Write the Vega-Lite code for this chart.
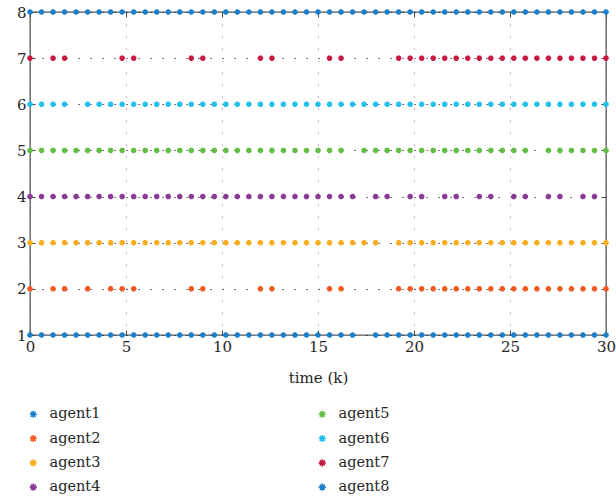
{
  "$schema": "https://vega.github.io/schema/vega-lite/v6.json",
  "width": 576,
  "height": 323,
  "autosize": {"type": "none"},
  "padding": {"left": 30, "top": 12, "right": 10, "bottom": 167},
  "background": "white",
  "config": {
    "view": {"stroke": "#555555", "strokeWidth": 1.3},
    "font": "DejaVu Serif",
    "axis": {"labelFont": "DejaVu Serif", "titleFont": "DejaVu Serif", "labelFontSize": 15, "titleFontSize": 15, "labelColor": "#262626", "titleColor": "#262626", "titleFontWeight": "normal", "domain": false, "tickColor": "#444444", "tickWidth": 1, "labelFlush": false},
    "legend": {"labelFont": "DejaVu Serif", "labelFontSize": 14.5, "labelColor": "#262626"},
    "text": {"font": "DejaVu Serif"}
  },
  "data": {"values": [
{"agent":"agent1","level":1,"time":0},{"agent":"agent1","level":1,"time":0.6},{"agent":"agent1","level":1,"time":1.2},{"agent":"agent1","level":1,"time":1.8},{"agent":"agent1","level":1,"time":2.4},{"agent":"agent1","level":1,"time":3},{"agent":"agent1","level":1,"time":3.6},{"agent":"agent1","level":1,"time":4.2},{"agent":"agent1","level":1,"time":4.8},{"agent":"agent1","level":1,"time":5.4},{"agent":"agent1","level":1,"time":6},{"agent":"agent1","level":1,"time":6.6},{"agent":"agent1","level":1,"time":7.2},{"agent":"agent1","level":1,"time":7.8},{"agent":"agent1","level":1,"time":8.4},{"agent":"agent1","level":1,"time":9},{"agent":"agent1","level":1,"time":9.6},{"agent":"agent1","level":1,"time":10.2},{"agent":"agent1","level":1,"time":10.8},{"agent":"agent1","level":1,"time":11.4},{"agent":"agent1","level":1,"time":12},{"agent":"agent1","level":1,"time":12.6},{"agent":"agent1","level":1,"time":13.2},{"agent":"agent1","level":1,"time":13.8},{"agent":"agent1","level":1,"time":14.4},{"agent":"agent1","level":1,"time":15},{"agent":"agent1","level":1,"time":15.6},{"agent":"agent1","level":1,"time":16.2},{"agent":"agent1","level":1,"time":16.8},{"agent":"agent1","level":1,"time":18},{"agent":"agent1","level":1,"time":18.6},{"agent":"agent1","level":1,"time":19.2},{"agent":"agent1","level":1,"time":19.8},{"agent":"agent1","level":1,"time":20.4},{"agent":"agent1","level":1,"time":21},{"agent":"agent1","level":1,"time":21.6},{"agent":"agent1","level":1,"time":22.2},{"agent":"agent1","level":1,"time":22.8},{"agent":"agent1","level":1,"time":23.4},{"agent":"agent1","level":1,"time":24},{"agent":"agent1","level":1,"time":24.6},{"agent":"agent1","level":1,"time":25.2},{"agent":"agent1","level":1,"time":25.8},{"agent":"agent1","level":1,"time":26.4},{"agent":"agent1","level":1,"time":27},{"agent":"agent1","level":1,"time":27.6},{"agent":"agent1","level":1,"time":28.2},{"agent":"agent1","level":1,"time":28.8},{"agent":"agent1","level":1,"time":29.4},{"agent":"agent1","level":1,"time":30},
{"agent":"agent2","level":2,"time":0},{"agent":"agent2","level":2,"time":1.2},{"agent":"agent2","level":2,"time":1.8},{"agent":"agent2","level":2,"time":3},{"agent":"agent2","level":2,"time":4.2},{"agent":"agent2","level":2,"time":4.8},{"agent":"agent2","level":2,"time":5.4},{"agent":"agent2","level":2,"time":8.4},{"agent":"agent2","level":2,"time":9},{"agent":"agent2","level":2,"time":12},{"agent":"agent2","level":2,"time":12.6},{"agent":"agent2","level":2,"time":15.6},{"agent":"agent2","level":2,"time":16.2},{"agent":"agent2","level":2,"time":19.2},{"agent":"agent2","level":2,"time":19.8},{"agent":"agent2","level":2,"time":20.4},{"agent":"agent2","level":2,"time":21},{"agent":"agent2","level":2,"time":21.6},{"agent":"agent2","level":2,"time":22.2},{"agent":"agent2","level":2,"time":22.8},{"agent":"agent2","level":2,"time":23.4},{"agent":"agent2","level":2,"time":24},{"agent":"agent2","level":2,"time":24.6},{"agent":"agent2","level":2,"time":25.2},{"agent":"agent2","level":2,"time":25.8},{"agent":"agent2","level":2,"time":26.4},{"agent":"agent2","level":2,"time":27},{"agent":"agent2","level":2,"time":27.6},{"agent":"agent2","level":2,"time":28.2},{"agent":"agent2","level":2,"time":28.8},{"agent":"agent2","level":2,"time":29.4},{"agent":"agent2","level":2,"time":30},
{"agent":"agent3","level":3,"time":0},{"agent":"agent3","level":3,"time":0.6},{"agent":"agent3","level":3,"time":1.2},{"agent":"agent3","level":3,"time":1.8},{"agent":"agent3","level":3,"time":2.4},{"agent":"agent3","level":3,"time":3},{"agent":"agent3","level":3,"time":3.6},{"agent":"agent3","level":3,"time":4.2},{"agent":"agent3","level":3,"time":4.8},{"agent":"agent3","level":3,"time":5.4},{"agent":"agent3","level":3,"time":6},{"agent":"agent3","level":3,"time":6.6},{"agent":"agent3","level":3,"time":7.2},{"agent":"agent3","level":3,"time":7.8},{"agent":"agent3","level":3,"time":8.4},{"agent":"agent3","level":3,"time":9},{"agent":"agent3","level":3,"time":9.6},{"agent":"agent3","level":3,"time":10.2},{"agent":"agent3","level":3,"time":10.8},{"agent":"agent3","level":3,"time":11.4},{"agent":"agent3","level":3,"time":12},{"agent":"agent3","level":3,"time":12.6},{"agent":"agent3","level":3,"time":13.2},{"agent":"agent3","level":3,"time":13.8},{"agent":"agent3","level":3,"time":14.4},{"agent":"agent3","level":3,"time":15},{"agent":"agent3","level":3,"time":15.6},{"agent":"agent3","level":3,"time":16.2},{"agent":"agent3","level":3,"time":16.8},{"agent":"agent3","level":3,"time":17.4},{"agent":"agent3","level":3,"time":18},{"agent":"agent3","level":3,"time":19.2},{"agent":"agent3","level":3,"time":19.8},{"agent":"agent3","level":3,"time":20.4},{"agent":"agent3","level":3,"time":21},{"agent":"agent3","level":3,"time":21.6},{"agent":"agent3","level":3,"time":22.2},{"agent":"agent3","level":3,"time":22.8},{"agent":"agent3","level":3,"time":23.4},{"agent":"agent3","level":3,"time":24},{"agent":"agent3","level":3,"time":24.6},{"agent":"agent3","level":3,"time":25.2},{"agent":"agent3","level":3,"time":25.8},{"agent":"agent3","level":3,"time":26.4},{"agent":"agent3","level":3,"time":27},{"agent":"agent3","level":3,"time":27.6},{"agent":"agent3","level":3,"time":28.2},{"agent":"agent3","level":3,"time":28.8},{"agent":"agent3","level":3,"time":29.4},{"agent":"agent3","level":3,"time":30},
{"agent":"agent4","level":4,"time":0},{"agent":"agent4","level":4,"time":0.6},{"agent":"agent4","level":4,"time":1.2},{"agent":"agent4","level":4,"time":1.8},{"agent":"agent4","level":4,"time":2.4},{"agent":"agent4","level":4,"time":3},{"agent":"agent4","level":4,"time":3.6},{"agent":"agent4","level":4,"time":4.2},{"agent":"agent4","level":4,"time":4.8},{"agent":"agent4","level":4,"time":5.4},{"agent":"agent4","level":4,"time":6},{"agent":"agent4","level":4,"time":6.6},{"agent":"agent4","level":4,"time":7.2},{"agent":"agent4","level":4,"time":7.8},{"agent":"agent4","level":4,"time":8.4},{"agent":"agent4","level":4,"time":9},{"agent":"agent4","level":4,"time":9.6},{"agent":"agent4","level":4,"time":10.2},{"agent":"agent4","level":4,"time":10.8},{"agent":"agent4","level":4,"time":11.4},{"agent":"agent4","level":4,"time":12},{"agent":"agent4","level":4,"time":12.6},{"agent":"agent4","level":4,"time":13.2},{"agent":"agent4","level":4,"time":13.8},{"agent":"agent4","level":4,"time":14.4},{"agent":"agent4","level":4,"time":15},{"agent":"agent4","level":4,"time":15.6},{"agent":"agent4","level":4,"time":16.2},{"agent":"agent4","level":4,"time":16.8},{"agent":"agent4","level":4,"time":18},{"agent":"agent4","level":4,"time":18.6},{"agent":"agent4","level":4,"time":19.8},{"agent":"agent4","level":4,"time":20.4},{"agent":"agent4","level":4,"time":21.6},{"agent":"agent4","level":4,"time":22.2},{"agent":"agent4","level":4,"time":23.4},{"agent":"agent4","level":4,"time":24},{"agent":"agent4","level":4,"time":25.2},{"agent":"agent4","level":4,"time":25.8},{"agent":"agent4","level":4,"time":27},{"agent":"agent4","level":4,"time":27.6},{"agent":"agent4","level":4,"time":28.8},{"agent":"agent4","level":4,"time":29.4},
{"agent":"agent5","level":5,"time":0},{"agent":"agent5","level":5,"time":0.6},{"agent":"agent5","level":5,"time":1.2},{"agent":"agent5","level":5,"time":1.8},{"agent":"agent5","level":5,"time":2.4},{"agent":"agent5","level":5,"time":3},{"agent":"agent5","level":5,"time":3.6},{"agent":"agent5","level":5,"time":4.2},{"agent":"agent5","level":5,"time":4.8},{"agent":"agent5","level":5,"time":5.4},{"agent":"agent5","level":5,"time":6},{"agent":"agent5","level":5,"time":6.6},{"agent":"agent5","level":5,"time":7.2},{"agent":"agent5","level":5,"time":7.8},{"agent":"agent5","level":5,"time":8.4},{"agent":"agent5","level":5,"time":9},{"agent":"agent5","level":5,"time":9.6},{"agent":"agent5","level":5,"time":10.2},{"agent":"agent5","level":5,"time":10.8},{"agent":"agent5","level":5,"time":11.4},{"agent":"agent5","level":5,"time":12},{"agent":"agent5","level":5,"time":12.6},{"agent":"agent5","level":5,"time":13.2},{"agent":"agent5","level":5,"time":13.8},{"agent":"agent5","level":5,"time":14.4},{"agent":"agent5","level":5,"time":15},{"agent":"agent5","level":5,"time":15.6},{"agent":"agent5","level":5,"time":16.2},{"agent":"agent5","level":5,"time":17.4},{"agent":"agent5","level":5,"time":18},{"agent":"agent5","level":5,"time":18.6},{"agent":"agent5","level":5,"time":19.2},{"agent":"agent5","level":5,"time":19.8},{"agent":"agent5","level":5,"time":20.4},{"agent":"agent5","level":5,"time":21},{"agent":"agent5","level":5,"time":21.6},{"agent":"agent5","level":5,"time":22.2},{"agent":"agent5","level":5,"time":22.8},{"agent":"agent5","level":5,"time":23.4},{"agent":"agent5","level":5,"time":24},{"agent":"agent5","level":5,"time":24.6},{"agent":"agent5","level":5,"time":25.2},{"agent":"agent5","level":5,"time":25.8},{"agent":"agent5","level":5,"time":27},{"agent":"agent5","level":5,"time":27.6},{"agent":"agent5","level":5,"time":28.2},{"agent":"agent5","level":5,"time":28.8},{"agent":"agent5","level":5,"time":29.4},{"agent":"agent5","level":5,"time":30},
{"agent":"agent6","level":6,"time":0},{"agent":"agent6","level":6,"time":0.6},{"agent":"agent6","level":6,"time":1.2},{"agent":"agent6","level":6,"time":1.8},{"agent":"agent6","level":6,"time":3},{"agent":"agent6","level":6,"time":3.6},{"agent":"agent6","level":6,"time":4.2},{"agent":"agent6","level":6,"time":4.8},{"agent":"agent6","level":6,"time":5.4},{"agent":"agent6","level":6,"time":6},{"agent":"agent6","level":6,"time":6.6},{"agent":"agent6","level":6,"time":7.2},{"agent":"agent6","level":6,"time":7.8},{"agent":"agent6","level":6,"time":8.4},{"agent":"agent6","level":6,"time":9},{"agent":"agent6","level":6,"time":9.6},{"agent":"agent6","level":6,"time":10.2},{"agent":"agent6","level":6,"time":10.8},{"agent":"agent6","level":6,"time":11.4},{"agent":"agent6","level":6,"time":12},{"agent":"agent6","level":6,"time":12.6},{"agent":"agent6","level":6,"time":13.2},{"agent":"agent6","level":6,"time":13.8},{"agent":"agent6","level":6,"time":14.4},{"agent":"agent6","level":6,"time":15},{"agent":"agent6","level":6,"time":15.6},{"agent":"agent6","level":6,"time":16.2},{"agent":"agent6","level":6,"time":16.8},{"agent":"agent6","level":6,"time":17.4},{"agent":"agent6","level":6,"time":18},{"agent":"agent6","level":6,"time":18.6},{"agent":"agent6","level":6,"time":19.2},{"agent":"agent6","level":6,"time":19.8},{"agent":"agent6","level":6,"time":20.4},{"agent":"agent6","level":6,"time":21},{"agent":"agent6","level":6,"time":21.6},{"agent":"agent6","level":6,"time":22.2},{"agent":"agent6","level":6,"time":22.8},{"agent":"agent6","level":6,"time":23.4},{"agent":"agent6","level":6,"time":24},{"agent":"agent6","level":6,"time":24.6},{"agent":"agent6","level":6,"time":25.2},{"agent":"agent6","level":6,"time":25.8},{"agent":"agent6","level":6,"time":26.4},{"agent":"agent6","level":6,"time":27},{"agent":"agent6","level":6,"time":27.6},{"agent":"agent6","level":6,"time":28.2},{"agent":"agent6","level":6,"time":28.8},{"agent":"agent6","level":6,"time":29.4},{"agent":"agent6","level":6,"time":30},
{"agent":"agent7","level":7,"time":0},{"agent":"agent7","level":7,"time":1.2},{"agent":"agent7","level":7,"time":1.8},{"agent":"agent7","level":7,"time":4.8},{"agent":"agent7","level":7,"time":5.4},{"agent":"agent7","level":7,"time":8.4},{"agent":"agent7","level":7,"time":9},{"agent":"agent7","level":7,"time":12},{"agent":"agent7","level":7,"time":12.6},{"agent":"agent7","level":7,"time":15.6},{"agent":"agent7","level":7,"time":16.2},{"agent":"agent7","level":7,"time":19.2},{"agent":"agent7","level":7,"time":19.8},{"agent":"agent7","level":7,"time":20.4},{"agent":"agent7","level":7,"time":21},{"agent":"agent7","level":7,"time":21.6},{"agent":"agent7","level":7,"time":22.2},{"agent":"agent7","level":7,"time":22.8},{"agent":"agent7","level":7,"time":23.4},{"agent":"agent7","level":7,"time":24},{"agent":"agent7","level":7,"time":24.6},{"agent":"agent7","level":7,"time":25.2},{"agent":"agent7","level":7,"time":25.8},{"agent":"agent7","level":7,"time":26.4},{"agent":"agent7","level":7,"time":27},{"agent":"agent7","level":7,"time":27.6},{"agent":"agent7","level":7,"time":28.2},{"agent":"agent7","level":7,"time":28.8},{"agent":"agent7","level":7,"time":29.4},{"agent":"agent7","level":7,"time":30},
{"agent":"agent8","level":8,"time":0},{"agent":"agent8","level":8,"time":0.6},{"agent":"agent8","level":8,"time":1.2},{"agent":"agent8","level":8,"time":1.8},{"agent":"agent8","level":8,"time":2.4},{"agent":"agent8","level":8,"time":3},{"agent":"agent8","level":8,"time":3.6},{"agent":"agent8","level":8,"time":4.2},{"agent":"agent8","level":8,"time":4.8},{"agent":"agent8","level":8,"time":5.4},{"agent":"agent8","level":8,"time":6},{"agent":"agent8","level":8,"time":6.6},{"agent":"agent8","level":8,"time":7.2},{"agent":"agent8","level":8,"time":7.8},{"agent":"agent8","level":8,"time":8.4},{"agent":"agent8","level":8,"time":9},{"agent":"agent8","level":8,"time":9.6},{"agent":"agent8","level":8,"time":10.2},{"agent":"agent8","level":8,"time":10.8},{"agent":"agent8","level":8,"time":11.4},{"agent":"agent8","level":8,"time":12},{"agent":"agent8","level":8,"time":12.6},{"agent":"agent8","level":8,"time":13.2},{"agent":"agent8","level":8,"time":13.8},{"agent":"agent8","level":8,"time":14.4},{"agent":"agent8","level":8,"time":15},{"agent":"agent8","level":8,"time":15.6},{"agent":"agent8","level":8,"time":16.2},{"agent":"agent8","level":8,"time":16.8},{"agent":"agent8","level":8,"time":17.4},{"agent":"agent8","level":8,"time":18},{"agent":"agent8","level":8,"time":18.6},{"agent":"agent8","level":8,"time":19.2},{"agent":"agent8","level":8,"time":19.8},{"agent":"agent8","level":8,"time":20.4},{"agent":"agent8","level":8,"time":21},{"agent":"agent8","level":8,"time":21.6},{"agent":"agent8","level":8,"time":22.2},{"agent":"agent8","level":8,"time":22.8},{"agent":"agent8","level":8,"time":23.4},{"agent":"agent8","level":8,"time":24},{"agent":"agent8","level":8,"time":24.6},{"agent":"agent8","level":8,"time":25.2},{"agent":"agent8","level":8,"time":25.8},{"agent":"agent8","level":8,"time":26.4},{"agent":"agent8","level":8,"time":27},{"agent":"agent8","level":8,"time":27.6},{"agent":"agent8","level":8,"time":28.2},{"agent":"agent8","level":8,"time":28.8},{"agent":"agent8","level":8,"time":29.4},{"agent":"agent8","level":8,"time":30}
  ]},
  "layer": [
    {
      "mark": {"type": "point", "shape": "M0,-1V1M-1,0H1M-0.7,-0.7L0.7,0.7M-0.7,0.7L0.7,-0.7", "filled": false, "size": 30, "strokeWidth": 1.9, "opacity": 1},
      "encoding": {
        "x": {"field": "time", "type": "quantitative", "scale": {"domain": [0, 30], "nice": false, "zero": false},
              "axis": {"orient": "bottom", "values": [0, 5, 10, 15, 20, 25, 30], "title": "time (k)", "tickSize": -5, "labelPadding": 9, "titlePadding": 16, "grid": true, "gridColor": "#8a8a8a", "gridDash": [1.2, 10.8], "gridWidth": 1}},
        "y": {"field": "level", "type": "quantitative", "scale": {"domain": [1, 8], "nice": false, "zero": false},
              "axis": {"orient": "left", "values": [1, 2, 3, 4, 5, 6, 7, 8], "title": null, "tickSize": -5, "labelPadding": 9, "grid": true, "gridColor": "#222222", "gridDash": [1.2, 10.8], "gridWidth": 1}},
        "color": {"field": "agent", "type": "nominal",
                  "scale": {"domain": ["agent1", "agent2", "agent3", "agent4", "agent5", "agent6", "agent7", "agent8"],
                            "range": ["#1a7fcc", "#f25a22", "#f9ad1e", "#8b3a96", "#62bd44", "#22c0ea", "#c81a40", "#1a7fcc"]},
                  "legend": {"orient": "none", "legendX": -4, "legendY": 395, "title": null, "columns": 2,
                             "symbolType": "M0,-1V1M-1,0H1M-0.7,-0.7L0.7,0.7M-0.7,0.7L0.7,-0.7", "symbolSize": 50, "symbolStrokeWidth": 1.6,
                             "labelOffset": 9, "rowPadding": 9.3, "columnPadding": 214}}
      }
    },
    {
      "mark": {"type": "point", "opacity": 0},
      "encoding": {
        "x": {"field": "time", "type": "quantitative", "scale": {"domain": [0, 30], "nice": false, "zero": false},
              "axis": {"orient": "top", "values": [0, 5, 10, 15, 20, 25, 30], "title": null, "labels": false, "tickSize": -5, "grid": false}},
        "y": {"field": "level", "type": "quantitative", "scale": {"domain": [1, 8], "nice": false, "zero": false},
              "axis": {"orient": "right", "values": [1, 2, 3, 4, 5, 6, 7, 8], "title": null, "labels": false, "tickSize": -5, "grid": false}}
      }
    }
  ],
  "resolve": {"axis": {"x": "independent", "y": "independent"}}
}
